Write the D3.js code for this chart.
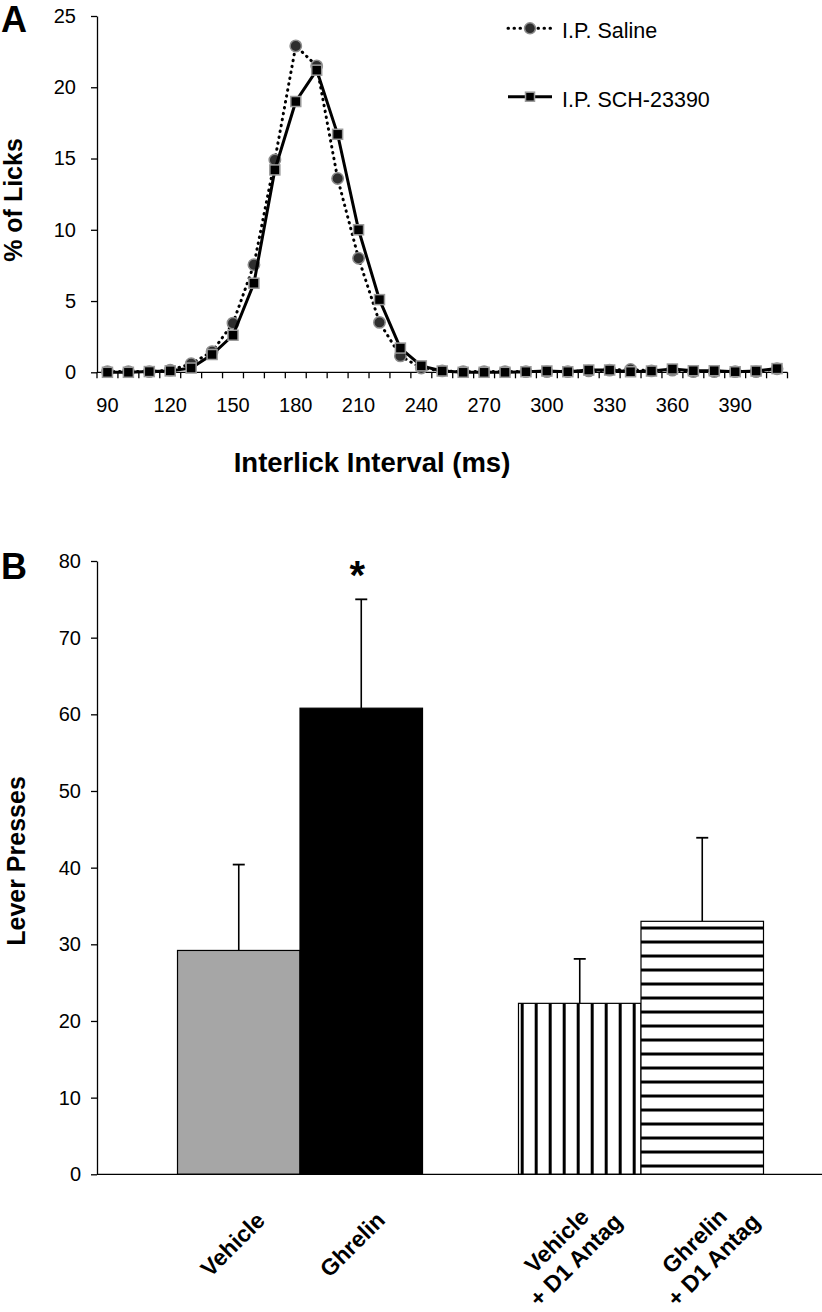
<!DOCTYPE html>
<html>
<head>
<meta charset="utf-8">
<script src="https://cdn.jsdelivr.net/npm/d3@7/dist/d3.min.js"></script>
<style>
  body { margin: 0; background: #fff; }
  svg { display: block; font-family: "Liberation Sans", Arial, Helvetica, sans-serif; }
</style>
</head>
<body>
<script>
// ---------- Datos del panel A ----------
const intervalos = [90, 100, 110, 120, 130, 140, 150, 160, 170, 180, 190, 200, 210, 220, 230, 240,
  250, 260, 270, 280, 290, 300, 310, 320, 330, 340, 350, 360, 370, 380, 390, 400, 410];
const salina = [0.05, 0.05, 0.05, 0.15, 0.6, 1.45, 3.45, 7.55, 14.9, 22.9, 21.5, 13.6, 8.0, 3.5, 1.15, 0.3,
  0.1, 0.05, 0.05, 0.05, 0.05, 0.05, 0.05, 0.1, 0.15, 0.2, 0.1, 0.15, 0.05, 0.05, 0.05, 0.05, 0.25];
const sch = [0, 0, 0.05, 0.1, 0.3, 1.25, 2.6, 6.25, 14.2, 19.0, 21.2, 16.7, 10.0, 5.1, 1.7, 0.45,
  0.09, 0, 0, 0, 0.04, 0.09, 0.04, 0.16, 0.16, 0.04, 0.09, 0.23, 0.11, 0.11, 0.04, 0.09, 0.26];
const ticksYA = [0, 5, 10, 15, 20, 25];
const etiquetasXA = [90, 120, 150, 180, 210, 240, 270, 300, 330, 360, 390];
const seriesA = ["I.P. Saline", "I.P. SCH-23390"];

// ---------- Datos del panel B ----------
const condiciones = ["Vehicle", "Ghrelin", "Vehicle + D1 Antag", "Ghrelin + D1 Antag"];
const bloques = ["sin", "con"];
const presiones = [29.2, 60.8, 22.3, 33.0];
const errores = [11.2, 14.2, 5.8, 10.9];
const ticksYB = [0, 10, 20, 30, 40, 50, 60, 70, 80];

const svg = d3.select("body").append("svg").attr("width", 822).attr("height", 1312);

// Patrones de rayas para las barras con antagonista
const defs = svg.append("defs");

// ================= Panel A =================
const xA = d3.scaleBand().domain(intervalos).range([97, 787.5]);
const yA = d3.scaleLinear().domain([0, 25]).range([372.3, 16]);
const centro = (d) => xA(d) + xA.bandwidth() / 2;

const panelA = svg.append("g");

// Eje Y
panelA.append("g")
  .attr("transform", "translate(97,0)")
  .call(d3.axisLeft(yA).tickValues(ticksYA).tickSize(6).tickSizeOuter(0).tickPadding(15))
  .call((g) => g.selectAll("text").attr("font-size", 20).attr("fill", "#000"))
  .call((g) => g.selectAll("line, path").attr("stroke", "#000").attr("stroke-width", 1.3));

// Eje X: línea, marcas entre categorías y etiquetas cada 30 ms
const ejeXA = panelA.append("g").attr("transform", `translate(0,${yA(0)})`);
ejeXA.append("line").attr("x1", 97).attr("x2", xA.range()[1]).attr("stroke", "#000").attr("stroke-width", 1.3);
ejeXA.selectAll("line.marca")
  .data(intervalos.map((d) => xA(d)).concat([xA.range()[1]]))
  .join("line")
  .attr("class", "marca")
  .attr("x1", (d) => d).attr("x2", (d) => d)
  .attr("y1", 0).attr("y2", 6)
  .attr("stroke", "#000").attr("stroke-width", 1.3);
ejeXA.selectAll("text")
  .data(etiquetasXA)
  .join("text")
  .attr("x", (d) => centro(d))
  .attr("y", 39.5)
  .attr("text-anchor", "middle")
  .attr("font-size", 20)
  .text((d) => d);

// Líneas
const linea = d3.line().x((d, i) => centro(intervalos[i])).y((d) => yA(d));

panelA.append("path")
  .datum(salina)
  .attr("d", linea)
  .attr("fill", "none")
  .attr("stroke", "#000")
  .attr("stroke-width", 3)
  .attr("stroke-linecap", "round")
  .attr("stroke-dasharray", "0.5,5.5");

panelA.selectAll("circle.salina")
  .data(salina)
  .join("circle")
  .attr("class", "salina")
  .attr("cx", (d, i) => centro(intervalos[i]))
  .attr("cy", (d) => yA(d))
  .attr("r", 5.7)
  .attr("fill", "#2e2e2e")
  .attr("stroke", "#8c8c8c")
  .attr("stroke-width", 1.5);

panelA.append("path")
  .datum(sch)
  .attr("d", linea)
  .attr("fill", "none")
  .attr("stroke", "#000")
  .attr("stroke-width", 3);

panelA.selectAll("rect.sch")
  .data(sch)
  .join("rect")
  .attr("class", "sch")
  .attr("x", (d, i) => centro(intervalos[i]) - 5)
  .attr("y", (d) => yA(d) - 5)
  .attr("width", 10)
  .attr("height", 10)
  .attr("fill", "#000")
  .attr("stroke", "#9a9a9a")
  .attr("stroke-width", 1.5);

// Leyenda
const leyenda = panelA.selectAll("g.leyenda")
  .data(seriesA)
  .join("g")
  .attr("class", "leyenda")
  .attr("transform", (d, i) => `translate(508,${i === 0 ? 28.3 : 96.7})`);

leyenda.append("line")
  .attr("x1", 0).attr("x2", 44)
  .attr("stroke", "#000")
  .attr("stroke-width", 3)
  .attr("stroke-linecap", (d, i) => (i === 0 ? "round" : "butt"))
  .attr("stroke-dasharray", (d, i) => (i === 0 ? "0.5,5.5" : null));

leyenda.filter((d, i) => i === 0).append("circle")
  .attr("cx", 22).attr("r", 5.5)
  .attr("fill", "#2e2e2e").attr("stroke", "#8c8c8c").attr("stroke-width", 1.5);

leyenda.filter((d, i) => i === 1).append("rect")
  .attr("x", 17.5).attr("y", -4.5).attr("width", 9).attr("height", 9)
  .attr("fill", "#000").attr("stroke", "#9a9a9a").attr("stroke-width", 1.5);

leyenda.append("text")
  .attr("x", 54)
  .attr("y", 9.8)
  .attr("font-size", 21.5)
  .text((d) => d);

// Títulos del panel A
panelA.append("text")
  .attr("transform", "translate(22,200) rotate(-90)")
  .attr("text-anchor", "middle")
  .attr("font-size", 25)
  .attr("font-weight", "bold")
  .text("% of Licks");

panelA.append("text")
  .attr("x", 372)
  .attr("y", 472.3)
  .attr("text-anchor", "middle")
  .attr("font-size", 27.5)
  .attr("font-weight", "bold")
  .text("Interlick Interval (ms)");

panelA.append("text")
  .attr("x", 1).attr("y", 32)
  .attr("font-size", 36)
  .attr("font-weight", "bold")
  .text("A");

// ================= Panel B =================
const yB = d3.scaleLinear().domain([0, 80]).range([1174.3, 561]);
const xGrupo = d3.scaleBand().domain(bloques).range([97, 844]).paddingInner(0.2815).paddingOuter(0.2361);
const xBarra = d3.scaleBand().domain([0, 1]).range([0, xGrupo.bandwidth()]);

const barras = condiciones.map((c, i) => ({
  nombre: c,
  valor: presiones[i],
  error: errores[i],
  x: xGrupo(bloques[Math.floor(i / 2)]) + xBarra(i % 2),
  w: xBarra.bandwidth()
}));

// Rayas verticales (Vehicle + D1) y horizontales (Ghrelin + D1)
const bV = barras[2];
const pv = defs.append("pattern")
  .attr("id", "rayasV")
  .attr("patternUnits", "userSpaceOnUse")
  .attr("x", bV.x + 2.2).attr("y", 0)
  .attr("width", 14).attr("height", 10);
pv.append("rect").attr("width", 14).attr("height", 10).attr("fill", "#fff");
pv.append("rect").attr("width", 3).attr("height", 10).attr("fill", "#000");

const bH = barras[3];
const ph = defs.append("pattern")
  .attr("id", "rayasH")
  .attr("patternUnits", "userSpaceOnUse")
  .attr("x", 0).attr("y", yB(bH.valor) + 5.2)
  .attr("width", 10).attr("height", 14);
ph.append("rect").attr("width", 10).attr("height", 14).attr("fill", "#fff");
ph.append("rect").attr("width", 10).attr("height", 3).attr("fill", "#000");

const rellenos = ["#a6a6a6", "#000", "url(#rayasV)", "url(#rayasH)"];

const panelB = svg.append("g");

// Barras de error (solo hacia arriba)
panelB.selectAll("line.error")
  .data(barras)
  .join("line")
  .attr("class", "error")
  .attr("x1", (d) => d.x + d.w / 2).attr("x2", (d) => d.x + d.w / 2)
  .attr("y1", (d) => yB(d.valor)).attr("y2", (d) => yB(d.valor + d.error))
  .attr("stroke", "#000").attr("stroke-width", 1.6);
panelB.selectAll("line.tope")
  .data(barras)
  .join("line")
  .attr("class", "tope")
  .attr("x1", (d) => d.x + d.w / 2 - 6).attr("x2", (d) => d.x + d.w / 2 + 6)
  .attr("y1", (d) => yB(d.valor + d.error)).attr("y2", (d) => yB(d.valor + d.error))
  .attr("stroke", "#000").attr("stroke-width", 1.8);

panelB.selectAll("rect.barra")
  .data(barras)
  .join("rect")
  .attr("class", "barra")
  .attr("x", (d) => d.x)
  .attr("y", (d) => yB(d.valor))
  .attr("width", (d) => d.w)
  .attr("height", (d) => yB(0) - yB(d.valor))
  .attr("fill", (d, i) => rellenos[i])
  .attr("stroke", "#000")
  .attr("stroke-width", 1.2);

// Eje Y
panelB.append("g")
  .attr("transform", "translate(97,0)")
  .call(d3.axisLeft(yB).tickValues(ticksYB).tickSize(6).tickSizeOuter(0).tickPadding(10))
  .call((g) => g.selectAll("text").attr("font-size", 20).attr("fill", "#000"))
  .call((g) => g.selectAll("line, path").attr("stroke", "#000").attr("stroke-width", 1.3));

// Eje X (solo la línea, se corta en el borde)
panelB.append("line")
  .attr("x1", 97).attr("x2", 822)
  .attr("y1", yB(0)).attr("y2", yB(0))
  .attr("stroke", "#000").attr("stroke-width", 1.3);

// Etiquetas giradas de las condiciones (centro del bloque respecto a la barra)
const ajusteX = [-6.5, -9.3, -14, 1.3];
const etiquetas = panelB.selectAll("g.etiqueta")
  .data(barras)
  .join("g")
  .attr("class", "etiqueta")
  .attr("transform", (d, i) => {
    const lineas = d.nombre.split(" + ").length;
    return `translate(${d.x + d.w / 2 + ajusteX[i]},${lineas > 1 ? 1250 : 1244}) rotate(-45)`;
  });

etiquetas.each(function (d) {
  const lineas = d.nombre.split(" + ").map((t, k) => (k > 0 ? "+ " + t : t));
  const n = lineas.length;
  d3.select(this).selectAll("text")
    .data(lineas)
    .join("text")
    .attr("text-anchor", "middle")
    .attr("y", (t, k) => (k - (n - 1) / 2) * 27 + 8.5)
    .attr("font-size", 23)
    .attr("font-weight", "bold")
    .text((t) => t);
});

// Asterisco de significancia sobre Ghrelin
panelB.append("text")
  .attr("x", barras[1].x + barras[1].w / 2 - 4)
  .attr("y", 589)
  .attr("text-anchor", "middle")
  .attr("font-size", 40)
  .attr("font-weight", "bold")
  .text("*");

// Títulos
panelB.append("text")
  .attr("transform", "translate(25,861) rotate(-90)")
  .attr("text-anchor", "middle")
  .attr("font-size", 25)
  .attr("font-weight", "bold")
  .text("Lever Presses");

panelB.append("text")
  .attr("x", 1).attr("y", 579)
  .attr("font-size", 36)
  .attr("font-weight", "bold")
  .text("B");
</script>
</body>
</html>
